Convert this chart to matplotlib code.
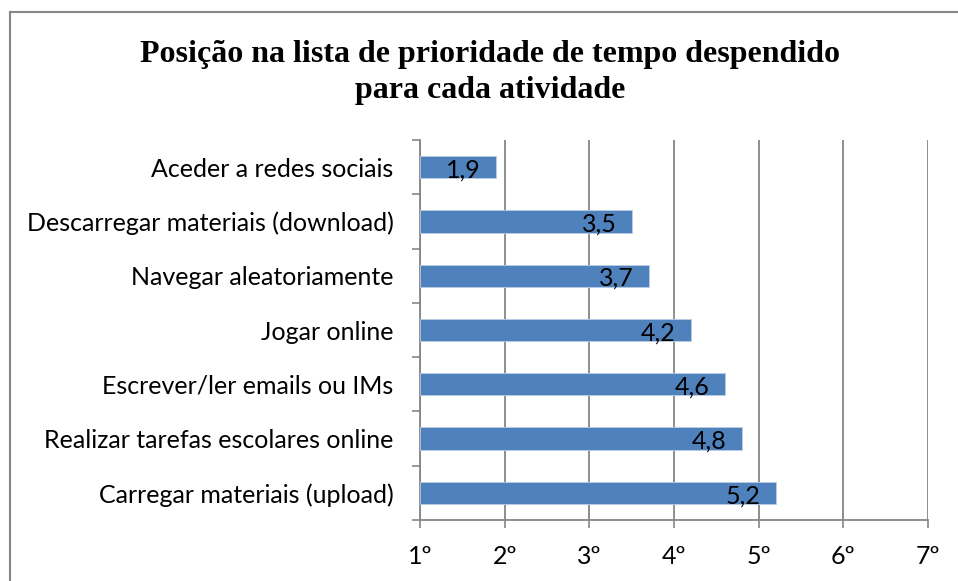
import matplotlib.pyplot as plt
import numpy as np

activities = ['Aceder a redes sociais',
              'Descarregar materiais (download)',
              'Navegar aleatoriamente',
              'Jogar online',
              'Escrever/ler emails ou IMs',
              'Realizar tarefas escolares online',
              'Carregar materiais (upload)']
values = [1.9, 3.5, 3.7, 4.2, 4.6, 4.8, 5.2]
ranks = [1, 2, 3, 4, 5, 6, 7]
rank_labels = ['1º', '2º', '3º', '4º', '5º', '6º', '7º']
title = 'Posição na lista de prioridade de tempo despendido\npara cada atividade'

label_font = ['Lato', 'DejaVu Sans']
grey = '#868686'
fs = 18

fig = plt.figure(figsize=(9.58, 5.81), dpi=100)
ax = fig.add_axes([0.4384, 0.105, 0.9687 - 0.4384, 0.759 - 0.105])

y = np.arange(len(activities))
ax.barh(y, np.array(values) - 1, left=1, height=0.41, color='#4F81BD',
        edgecolor='#B9CDE5', linewidth=0.6, zorder=3)

for yi, v in zip(y, values):
    ax.annotate(f'{v:.1f}'.replace('.', ','), xy=(v, yi), xytext=(-11, -2),
                textcoords='offset points', ha='right', va='center',
                fontsize=fs, family=label_font, zorder=4)

ax.set_xlim(1, 7)
ax.set_ylim(len(activities) - 0.5, -0.5)
ax.set_xticks(ranks, rank_labels, fontsize=fs, family=label_font)
ax.set_yticks(y, activities, fontsize=fs, family=label_font)
ax.set_yticks(np.arange(len(activities) + 1) - 0.5, minor=True)
ax.tick_params(axis='y', which='major', length=0, pad=19)
ax.tick_params(axis='y', which='minor', length=6, width=1.2, color=grey)
ax.tick_params(axis='x', length=6, width=1.2, color=grey, pad=12)

ax.grid(axis='x', color=grey, linewidth=1.3, zorder=0)
for s in ['top', 'right']:
    ax.spines[s].set_visible(False)
for s in ['left', 'bottom']:
    ax.spines[s].set_color(grey)
    ax.spines[s].set_linewidth(1.3)

fig.text(0.512, 0.876, title, ha='center', va='center', fontsize=23,
         fontweight='bold', family='Liberation Serif', linespacing=1.32)

# moldura do gráfico (só esquerda e topo visíveis)
fig.add_artist(plt.Line2D([10 / 958, 10 / 958], [0, 1 - 12 / 581],
                          color=grey, linewidth=1.5))
fig.add_artist(plt.Line2D([10 / 958, 1], [1 - 12 / 581, 1 - 12 / 581],
                          color=grey, linewidth=1.5))

fig.savefig('out.png', dpi=100)
